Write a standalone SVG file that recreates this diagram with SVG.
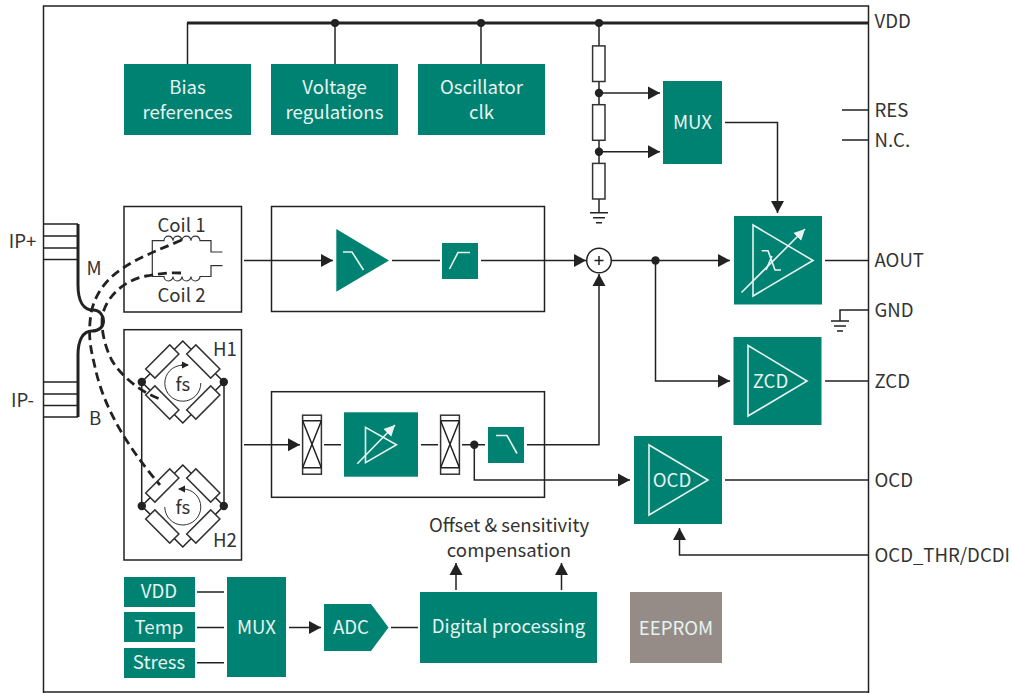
<svg xmlns="http://www.w3.org/2000/svg" width="1013" height="693" viewBox="0 0 1013 693">
<style>
text{font-family:"Noto Sans CJK SC","Noto Sans",sans-serif;font-size:18.6px;fill:#333;text-anchor:middle;dominant-baseline:central}
.w{fill:#e6f3f1}
.l{text-anchor:start}
.t{fill:#008272}
.f{fill:none;stroke:#222;stroke-width:1.5}
.b{fill:#fff;stroke:#333;stroke-width:1.5}
.s{fill:none;stroke:#e6f3f1;stroke-width:1.6}
.c{fill:none;stroke:#222;stroke-width:1.5}
.ca{fill:none;stroke:#222;stroke-width:1.5;marker-end:url(#a)}
.th{fill:none;stroke:#222;stroke-width:3}
.d{fill:none;stroke:#222;stroke-width:2.8;stroke-dasharray:9 5}
.n{fill:#222}
</style>
<defs>
<marker id="a" markerUnits="userSpaceOnUse" markerWidth="12" markerHeight="14" refX="12" refY="7" orient="auto"><path d="M0 .5L12 7L0 13.5z" fill="#222"/></marker>
<marker id="sa" markerUnits="userSpaceOnUse" markerWidth="8" markerHeight="8" refX="6" refY="4" orient="auto"><path d="M0 .5L7 4L0 7.500z" fill="#222"/></marker>
<marker id="wa" markerUnits="userSpaceOnUse" markerWidth="12" markerHeight="12" refX="11" refY="6" orient="auto"><path d="M0 .5L11 6L0 11.500z" fill="#e6f3f1"/></marker>
<g id="res"><rect x="-6.2" y="-17.8" width="12.4" height="35.6" class="b"/></g>
<g id="gnd"><path d="M-9 0H9M-6 5H6M-3 10H3" class="c"/></g>
<g id="mixer"><rect x="-9.4" y="-29.5" width="18.8" height="59" class="b"/><path d="M-9.4 -24H9.4M-9.4 23H9.4M-9.4 -24L9.4 23M9.4 -24L-9.4 23" class="c" stroke-width="1"/></g>
<g id="bridge">
<path d="M-41 0L0 -41L41 0L0 41z" class="c" stroke-width="1"/>
<rect x="-17" y="-6.5" width="34" height="13" class="b" transform="translate(-20.5 -20.5) rotate(-45)"/>
<rect x="-17" y="-6.5" width="34" height="13" class="b" transform="translate(20.5 -20.5) rotate(45)"/>
<rect x="-17" y="-6.5" width="34" height="13" class="b" transform="translate(-20.5 20.5) rotate(45)"/>
<rect x="-17" y="-6.5" width="34" height="13" class="b" transform="translate(20.5 20.5) rotate(-45)"/>
<circle cx="-41" cy="0" r="4.2" class="n"/><circle cx="41" cy="0" r="4.2" class="n"/>
</g>
</defs>
<rect width="1013" height="693" fill="#fff"/>
<path id="frame" d="M43.500 693V6H868.500V693M43.500 692H868.500" class="c"/>

<g id="connectors">
<path d="M187 23H868.500" class="th"/>
<path d="M187.500 23V64M335 23V64M481 23V64" class="c"/>
<path d="M599 23V212" class="c"/>
<path d="M599 93H660" class="ca"/>
<path d="M599 151.700H660" class="ca"/>
<path d="M725 122.500H777.500V213" class="ca"/>
<path d="M842 110H868.500M842 140H868.500" class="c"/>
<path d="M244 260.500H333" class="ca"/>
<path d="M392 260.500H440" class="c"/>
<path d="M481 260.500H586" class="ca"/>
<path d="M611.500 260.500H730" class="ca"/>
<path d="M655.500 260.500V381H730" class="ca"/>
<path d="M825 260.500H868.500M825 381H868.500M725 480H868.500" class="c"/>
<path d="M868.500 310H840V321" class="c"/>
<path d="M244 444.700H300" class="ca"/>
<path d="M324 444.700H341M421 444.700H438M462 444.700H485" class="c"/>
<path d="M527 444.700H599V274" class="ca"/>
<path d="M474.300 444.700V480H630" class="ca"/>
<path d="M868.500 555H679.500V528" class="ca"/>
<path d="M197 592H224M197 627.500H224M197 662.700H224M391 627.500H418" class="c"/>
<path d="M289 627.500H321" class="ca"/>
<path d="M456 590V563" class="ca"/>
<path d="M561.500 590V563" class="ca"/>
<g id="ip-leads">
<path d="M43.500 224H78M43.500 236H78M43.500 248H78M43.500 259.500H78M43.500 382H78M43.500 394H78M43.500 405.500H78M43.500 417H78" class="c"/>
<path d="M78 224V285C78 302 84 310 93 310C100 310 103.500 316 103.500 321C103.500 327 99 331 92 331C83 331 78 340 78 355V417" class="th"/>
</g>
</g>

<g id="node-bias"><rect x="124" y="64" width="127" height="71" class="t"/><text x="187.500" y="85" class="w">Bias</text><text x="187.500" y="110" class="w">references</text></g>
<g id="node-voltage"><rect x="271" y="64" width="127" height="71" class="t"/><text x="334.500" y="85" class="w">Voltage</text><text x="334.500" y="110" class="w">regulations</text></g>
<g id="node-osc"><rect x="418" y="64" width="127" height="71" class="t"/><text x="481.500" y="85" class="w">Oscillator</text><text x="481.500" y="110" class="w">clk</text></g>

<g id="node-divider">
<circle cx="599" cy="23" r="4" class="n"/><circle cx="335" cy="23" r="4" class="n"/><circle cx="481" cy="23" r="4" class="n"/>
<use href="#res" x="598.800" y="63.700"/><use href="#res" x="598.800" y="122.500"/><use href="#res" x="598.800" y="181.200"/>
<circle cx="599" cy="93" r="4.200" class="n"/><circle cx="599" cy="151.700" r="4.200" class="n"/>
<use href="#gnd" x="599" y="212.700"/>
</g>
<g id="node-mux1"><rect x="663" y="81" width="59" height="83" class="t"/><text x="692.500" y="120" class="w">MUX</text></g>

<g id="node-coil">
<rect x="124" y="206.500" width="117.500" height="105.500" class="f"/>
<text x="181.500" y="223">Coil 1</text><text x="181.500" y="293.500">Coil 2</text>
<path d="M222.500 252H211V240.700H200A4.500 4.500 0 0 0 191 240.700A4.500 4.500 0 0 0 182 240.700A4.500 4.500 0 0 0 173 240.700A4.500 4.500 0 0 0 164 240.700H152.300V276.500H164A4.500 4.500 0 0 0 173 276.500A4.500 4.500 0 0 0 182 276.500A4.500 4.500 0 0 0 191 276.500A4.500 4.500 0 0 0 200 276.500H211V265.700H222.500" fill="none" stroke="#333" stroke-width="1.200"/>
</g>
<g id="node-hall">
<rect x="124" y="329.700" width="117.500" height="230.300" class="f"/>
<path d="M141.700 382V506M224 382V506" class="c"/>
<use href="#bridge" x="182.800" y="382"/>
<use href="#bridge" x="182.800" y="506"/>
<path d="M200.800 383A18 18 0 1 1 182.800 365.200" fill="none" stroke="#333" stroke-width="1"/>
<path d="M181 365L188 365" fill="none" stroke="#222" stroke-width="1" marker-end="url(#sa)"/>
<path d="M164.800 507A18 18 0 1 0 182.800 489" fill="none" stroke="#333" stroke-width="1"/>
<path d="M184 489L179 489" fill="none" stroke="#222" stroke-width="1" marker-end="url(#sa)"/>
<text x="182.800" y="382">fs</text><text x="182.800" y="505.500">fs</text>
<text x="225" y="347">H1</text><text x="225" y="538">H2</text>
</g>
<g id="wires-dashed">
<path d="M181.700 240C140 258 102 270 91.700 310C87 335 91 350 95 367C104 410 130 450 160 485" class="d"/>
<path d="M181 273C165 272 155 275 146 276C125 280 108 295 103 313C100 325 104 345 111.700 360C120 375 140 392 160 399" class="d"/>
</g>

<g id="node-path1">
<rect x="271.500" y="206.500" width="273" height="105" class="f"/>
<path d="M336.300 229V291.700L389 260.500z" class="t"/>
<path d="M343 252H352L363.500 270" class="s"/>
<rect x="442" y="243" width="36" height="36" class="t"/>
<path d="M449.500 269L458 252.500H470" class="s"/>
</g>
<g id="node-path2">
<rect x="271.500" y="391.700" width="273" height="105.600" class="f"/>
<use href="#mixer" x="312" y="444.700"/>
<use href="#mixer" x="450" y="444.700"/>
<rect x="344" y="412.300" width="74" height="64.400" class="t"/>
<path d="M365.500 427.300V462.700L396.500 444.700z" class="s"/>
<path d="M357.300 463.700L395 425" class="s" stroke-width="1.200" marker-end="url(#wa)"/>
<rect x="488" y="427" width="36" height="36" class="t"/>
<path d="M496 435.500H507L517 453.500" class="s"/>
<circle cx="474.300" cy="444.700" r="4.200" class="n"/>
</g>
<g id="node-sum">
<circle cx="599" cy="260.500" r="12.300" fill="#fff" stroke="#222" stroke-width="1.500"/>
<path d="M594.500 260.500H603.500M599 256V265" class="c" stroke-width="1"/>
<circle cx="655.500" cy="260.500" r="4.200" class="n"/>
</g>

<g id="node-aout">
<rect x="734" y="216" width="88" height="88.500" class="t"/>
<path d="M753 225V296L813 260.500z" class="s"/>
<path d="M741.500 292.500L805 229" class="s" stroke-width="1.200" marker-end="url(#wa)"/>
<path d="M761.700 250.700H768L775 270H781M766 270L772 256" class="s" stroke-width="1.300"/>
</g>
<g id="node-zcd">
<rect x="733.500" y="337" width="88" height="88" class="t"/>
<path d="M748 345.500V416L807 381z" class="s"/>
<text x="770.500" y="379.500" class="w">ZCD</text>
</g>
<g id="node-ocd">
<rect x="634" y="436" width="88" height="88" class="t"/>
<path d="M649 445V515L708 480z" class="s"/>
<text x="672" y="478.500" class="w">OCD</text>
</g>
<g id="gnd-pin"><use href="#gnd" x="840" y="321"/></g>

<g id="node-vdd-in"><rect x="124" y="577" width="71" height="30" class="t"/><text x="159" y="589.500" class="w">VDD</text></g>
<g id="node-temp"><rect x="124" y="612" width="71" height="30" class="t"/><text x="159" y="625" class="w">Temp</text></g>
<g id="node-stress"><rect x="124" y="648" width="71" height="30" class="t"/><text x="159" y="660" class="w">Stress</text></g>
<g id="node-mux2"><rect x="227" y="577" width="59" height="100" class="t"/><text x="256.500" y="625" class="w">MUX</text></g>
<g id="node-adc"><path d="M324 604H371L388.500 627.500L371 651H324z" class="t"/><text x="351" y="625" class="w">ADC</text></g>
<g id="node-dsp"><rect x="420" y="592" width="177" height="71" class="t"/><text x="508.500" y="624.500" class="w">Digital processing</text></g>
<g id="node-eeprom"><rect x="630" y="592" width="92" height="71" fill="#968c87"/><text x="676" y="626" class="w">EEPROM</text></g>

<g id="labels">
<text x="509" y="523">Offset &amp; sensitivity</text><text x="509" y="548">compensation</text>
<text x="22.500" y="239">IP+</text><text x="22.500" y="398">IP-</text>
<text x="94" y="266">M</text><text x="95" y="416">B</text>
<text x="874.500" y="19.500" class="l">VDD</text><text x="874.500" y="108" class="l">RES</text><text x="874.500" y="138" class="l">N.C.</text>
<text x="874.500" y="258" class="l">AOUT</text><text x="874.500" y="308" class="l">GND</text><text x="874.500" y="379" class="l">ZCD</text>
<text x="874.500" y="478" class="l">OCD</text><text x="874.500" y="553" class="l">OCD_THR/DCDI</text>
</g>
</svg>
